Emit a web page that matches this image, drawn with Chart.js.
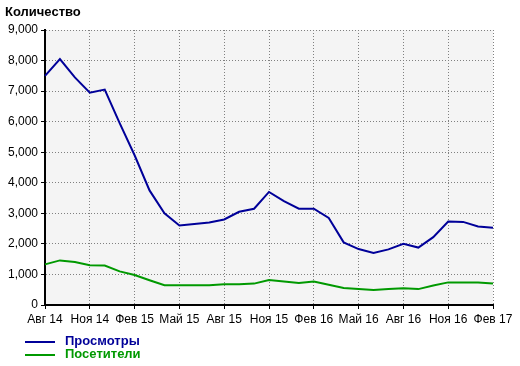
<!DOCTYPE html>
<html>
<head>
<meta charset="utf-8">
<script src="https://cdn.jsdelivr.net/npm/chart.js@4"></script>
<style>
  body { margin: 0; background: #fff; }
  #wrap { position: relative; width: 520px; height: 366px; }
  #title { position: absolute; left: 5px; top: 4px; font: bold 13px "Liberation Sans", Arial, sans-serif; color: #000; }
  .leg { position: absolute; left: 25px; font: bold 13px "Liberation Sans", Arial, sans-serif; }
  .leg span { display: inline-block; width: 30px; height: 2px; vertical-align: middle; margin-right: 10px; }
</style>
</head>
<body>
<div id="wrap">
  <canvas id="chart" width="520" height="366"></canvas>
  <div id="title">Количество</div>
  <div class="leg" style="top:333px;color:#000099"><span style="background:#000099"></span>Просмотры</div>
  <div class="leg" style="top:346px;color:#009900"><span style="background:#009900"></span>Посетители</div>
</div>
<script>
const months = ['Авг 14','Сен 14','Окт 14','Ноя 14','Дек 14','Янв 15','Фев 15','Мар 15','Апр 15','Май 15','Июн 15','Июл 15',
  'Авг 15','Сен 15','Окт 15','Ноя 15','Дек 15','Янв 16','Фев 16','Мар 16','Апр 16','Май 16','Июн 16','Июл 16',
  'Авг 16','Сен 16','Окт 16','Ноя 16','Дек 16','Янв 17','Фев 17'];
const views = [7500, 8050, 7450, 6950, 7050, 5950, 4900, 3750, 3000, 2600, 2650, 2700, 2800, 3050, 3150, 3700,
  3400, 3150, 3150, 2850, 2050, 1830, 1700, 1820, 2000, 1880, 2220, 2730, 2720, 2570, 2530];
const visitors = [1330, 1460, 1410, 1300, 1290, 1100, 980, 810, 650, 650, 650, 650, 680, 680, 700, 820,
  770, 720, 770, 660, 560, 520, 490, 520, 550, 520, 640, 740, 740, 740, 700];

// plot background
const plotBg = {
  id: 'plotBg',
  beforeDraw(chart) {
    const { ctx, chartArea: a } = chart;
    ctx.save();
    ctx.fillStyle = '#f4f4f4';
    ctx.fillRect(a.left, a.top, a.right - a.left, a.bottom - a.top);
    ctx.restore();
  }
};

const font = { family: '"Liberation Sans", Arial, sans-serif', size: 12 };

new Chart(document.getElementById('chart'), {
  type: 'line',
  data: {
    labels: months,
    datasets: [
      { label: 'Просмотры', data: views, borderColor: '#000099', borderWidth: 2, pointRadius: 0, tension: 0 },
      { label: 'Посетители', data: visitors, borderColor: '#009900', borderWidth: 2, pointRadius: 0, tension: 0 }
    ]
  },
  options: {
    responsive: false,
    animation: false,
    layout: { padding: { top: 30, right: 27, bottom: 36, left: 0 } },
    plugins: { legend: { display: false }, tooltip: { enabled: false } },
    scales: {
      x: {
        offset: false,
        afterFit: s => { s.height = 25; },
        ticks: { autoSkip: false, maxRotation: 0, color: '#000', font, padding: 3,
          callback: (v, i) => i % 3 === 0 ? months[i] : '' },
        grid: { color: c => c.index % 3 === 0 ? '#808080' : 'transparent',
          tickColor: c => c.index % 3 === 0 ? '#000' : 'transparent', tickLength: 4 },
        border: { color: '#000', width: 2, dash: [1, 2] }
      },
      y: {
        min: 0, max: 9000,
        afterFit: s => { s.width = 45; },
        ticks: { stepSize: 1000, color: '#000', font, padding: 3,
          callback: v => v.toLocaleString('en-US') },
        grid: { color: '#808080', tickColor: '#000', tickLength: 4 },
        border: { color: '#000', width: 2, dash: [1, 2] }
      }
    }
  },
  plugins: [plotBg]
});
</script>
</body>
</html>
